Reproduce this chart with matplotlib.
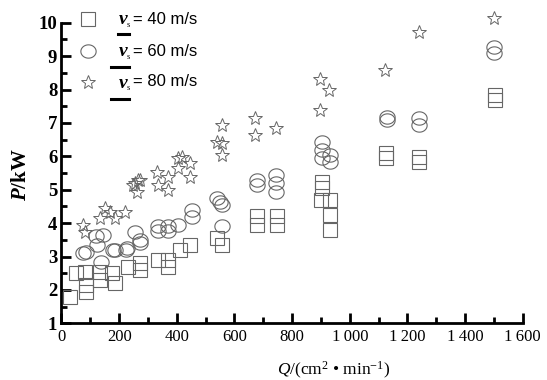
import numpy as np
import matplotlib
matplotlib.use("Agg")
import matplotlib.pyplot as plt
from matplotlib.path import Path
from matplotlib.lines import Line2D
from matplotlib.ticker import MultipleLocator, FixedLocator

# ---- data ----
Q_40 = [30, 50, 86, 86, 82, 133, 133, 186, 174, 232, 272, 272, 336, 370, 370, 411, 446,
        538, 556, 677, 677, 749, 749, 902, 902, 899, 931, 931, 931, 1126, 1126, 1241, 1241,
        1504, 1504]
P_40 = [1.8, 2.5, 1.95, 2.15, 2.55, 2.3, 2.55, 2.2, 2.5, 2.7, 2.6, 2.8, 2.9, 2.9, 2.7, 3.2, 3.35,
        3.55, 3.35, 4.2, 3.95, 4.2, 3.95, 5.24, 5.04, 4.7, 4.7, 4.24, 3.8, 6.1, 5.94, 5.99, 5.84,
        7.83, 7.7]

Q_60 = [76, 86, 121, 122, 138, 145, 179, 186, 225, 226, 255, 272, 272, 336, 336, 370, 370, 405,
        452, 452, 540, 550, 556, 556, 677, 677, 744, 744, 744, 902, 902, 902, 931, 931, 1130, 1130,
        1241, 1241, 1501, 1501]
P_60 = [3.1, 3.14, 3.6, 3.34, 2.85, 3.64, 3.2, 3.2, 3.2, 3.25, 3.74, 3.5, 3.4, 3.9, 3.75, 3.9, 3.75, 3.94,
        4.39, 4.19, 4.74, 4.64, 4.54, 3.9, 5.3, 5.14, 5.44, 5.19, 4.94, 6.44, 6.19, 5.94, 6.04, 5.84, 7.19, 7.09,
        7.14, 6.94, 9.28, 9.08]

Q_80 = [76, 80, 133, 151, 168, 186, 220, 255, 261, 266, 249, 272, 330, 336, 370, 370, 405, 405, 417,
        446, 446, 538, 556, 556, 556, 671, 671, 744, 897, 897, 929, 1122, 1241, 1501]
P_80 = [3.94, 3.74, 4.14, 4.44, 4.34, 4.14, 4.34, 5.19, 4.94, 5.29, 5.14, 5.29, 5.54, 5.14, 4.99, 5.39, 5.94, 5.64, 5.99,
        5.79, 5.39, 6.44, 6.94, 6.39, 6.04, 7.14, 6.64, 6.84, 7.39, 8.3, 7.99, 8.57, 9.73, 10.13]

series_labels = ["= 40 m/s", "= 60 m/s", "= 80 m/s"]
x_ticks = [0, 200, 400, 600, 800, 1000, 1200, 1400, 1600]
x_ticklabels = ["0", "200", "400", "600", "800", "1\u2009000", "1\u2009200", "1\u2009400", "1\u2009600"]
y_ticks = [1, 2, 3, 4, 5, 6, 7, 8, 9, 10]

# ---- style ----
serif = "Liberation Serif"
sans = "Liberation Sans"
plt.rcParams["mathtext.fontset"] = "custom"
plt.rcParams["mathtext.rm"] = "Liberation Serif"
plt.rcParams["mathtext.it"] = "Liberation Serif:italic"
plt.rcParams["mathtext.bf"] = "Liberation Serif:bold"
plt.rcParams["mathtext.bfit"] = "Liberation Serif:italic:bold"

edge = "#666666"
lw_m = 0.8

t = np.linspace(0, 2 * np.pi, 60)
ellipse = Path(np.column_stack([np.cos(t), 0.87 * np.sin(t)]), closed=True)

fig = plt.figure(figsize=(5.47, 3.80), dpi=100)
ax = fig.add_axes([61.5 / 547, 1 - 323.3 / 380, (522.7 - 61.5) / 547, (323.3 - 22.7) / 380])

ax.plot(Q_40, P_40, ls="none", marker="s", ms=9.5, mfc="none", mec=edge, mew=lw_m, clip_on=False)
ax.plot(Q_60, P_60, ls="none", marker=ellipse, ms=11, mfc="none", mec=edge, mew=lw_m, clip_on=False)
ax.plot(Q_80, P_80, ls="none", marker="*", ms=10.5, mfc="none", mec=edge, mew=0.7, clip_on=False)

ax.set_xlim(0, 1600)
ax.set_ylim(1, 10)
for s in ["top", "right"]:
    ax.spines[s].set_visible(False)
for s in ["left", "bottom"]:
    ax.spines[s].set_linewidth(2.0)

ax.xaxis.set_major_locator(FixedLocator(x_ticks))
ax.xaxis.set_minor_locator(MultipleLocator(100))
ax.yaxis.set_major_locator(FixedLocator(y_ticks))
ax.yaxis.set_minor_locator(MultipleLocator(0.5))
ax.set_xticklabels(x_ticklabels, fontfamily=serif, fontsize=12)
ax.set_yticklabels([str(v) for v in y_ticks], fontfamily=serif, fontsize=13.5, fontweight="bold")
ax.tick_params(axis="both", which="major", direction="in", length=7, width=2.0)
ax.tick_params(axis="both", which="minor", direction="in", length=4, width=2.0)
ax.tick_params(axis="x", which="major", pad=4)
ax.tick_params(axis="y", which="major", pad=3)

# axis labels
fig.text(21 / 547, 1 - 175 / 380, r"$\mathbfit{P}$/kW", rotation=90, ha="center", va="center",
         fontfamily=serif, fontsize=15, fontweight="bold")
fig.text(334 / 547, 1 - 370 / 380, "$\\mathit{Q}$/(cm$^{2}$ \u2022 min$^{-1}$)",
         ha="center", va="center", fontfamily=serif, fontsize=12.5)

# legend (drawn manually)
leg_markers = [dict(marker="s", ms=9.5, mew=lw_m), dict(marker=ellipse, ms=11, mew=lw_m),
               dict(marker="*", ms=10.5, mew=0.7)]
leg_y = [19, 51, 82]
line_x0 = [118, 111, 111]
line_y = [33.5, 67, 99]
for mk, yy, lx, ly, txt in zip(leg_markers, leg_y, line_x0, line_y, series_labels):
    fig.add_artist(Line2D([88 / 547], [1 - yy / 380], ls="none", mfc="none", mec=edge,
                          transform=fig.transFigure, **mk))
    fig.text(119 / 547, 1 - (yy + 1) / 380, "v", ha="left", va="center", fontfamily=serif,
             fontsize=14, fontweight="bold", fontstyle="italic")
    fig.text(127 / 547, 1 - (yy + 6) / 380, "s", ha="left", va="center", fontfamily=serif,
             fontsize=6)
    fig.text(133 / 547, 1 - yy / 380, txt, ha="left", va="center", fontfamily=sans, fontsize=12)
    fig.add_artist(Line2D([lx / 547, 129 / 547], [1 - ly / 380, 1 - ly / 380], color="black",
                          lw=2.2, transform=fig.transFigure))

fig.savefig("out.png", dpi=100)
